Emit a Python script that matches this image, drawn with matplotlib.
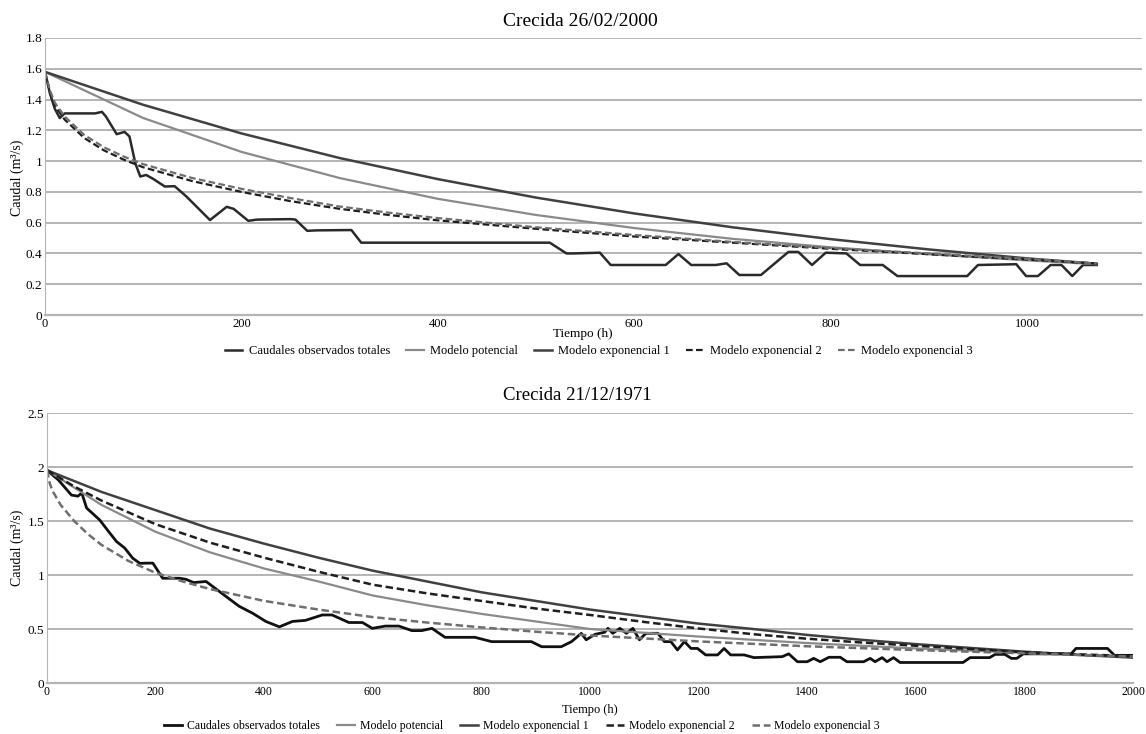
import matplotlib
matplotlib.use("Agg")
import matplotlib.pyplot as plt

plt.rcParams["font.family"] = ["Liberation Serif", "DejaVu Serif"]

# ---- Crecida 26/02/2000 ----
t_obs_a = [0, 5, 10, 15, 20, 51, 58, 62, 73, 81, 86, 92, 97, 103, 110, 122, 132, 144,
           168, 185, 192, 207, 216, 250, 255, 267, 277, 312, 322, 330, 514, 531, 538,
           565, 576, 632, 645, 658, 683, 694, 707, 729, 757, 767, 781, 795, 816, 830, 853,
           868, 939, 950, 989, 999, 1011, 1024, 1035, 1046, 1057, 1071]
q_obs_a = [1.58, 1.44, 1.34, 1.28, 1.31, 1.31, 1.32, 1.29, 1.175, 1.19, 1.16, 0.985, 0.90,
           0.91, 0.885, 0.835, 0.837, 0.77, 0.617, 0.703, 0.69, 0.612, 0.62, 0.623, 0.62,
           0.547, 0.55, 0.552, 0.47, 0.47, 0.47, 0.40, 0.40, 0.405, 0.325, 0.325, 0.396,
           0.325, 0.325, 0.336, 0.26, 0.26, 0.41, 0.41, 0.325, 0.405, 0.40, 0.325, 0.325,
           0.253, 0.253, 0.325, 0.33, 0.253, 0.253, 0.325, 0.325, 0.253, 0.325, 0.325]

t_mod_a = [0, 100, 200, 300, 400, 500, 600, 700, 800, 900, 1000, 1071]
q_pot_a = [1.58, 1.28, 1.06, 0.89, 0.755, 0.65, 0.565, 0.495, 0.44, 0.395, 0.355, 0.33]
q_exp1_a = [1.58, 1.366, 1.18, 1.02, 0.883, 0.763, 0.66, 0.57, 0.493, 0.426, 0.368, 0.333]

t_exp_a = [0, 5, 10, 20, 40, 60, 80, 100, 150, 200, 250, 300, 350, 400, 500, 600, 700,
           800, 900, 1000, 1071]
q_exp2_a = [1.58, 1.45, 1.36, 1.27, 1.15, 1.07, 1.01, 0.96, 0.87, 0.80, 0.74, 0.69, 0.65,
            0.615, 0.56, 0.51, 0.47, 0.43, 0.395, 0.36, 0.335]
q_exp3_a = [1.58, 1.46, 1.38, 1.29, 1.17, 1.09, 1.03, 0.98, 0.89, 0.82, 0.76, 0.705, 0.665,
            0.63, 0.57, 0.52, 0.475, 0.435, 0.40, 0.365, 0.335]

# ---- Crecida 21/12/1971 ----
t_obs_b = [0, 21, 45, 57, 64, 73, 97, 116, 128, 143, 158, 171, 185, 195, 213, 244, 256,
           270, 293, 330, 354, 379, 403, 428, 452, 476, 507, 525, 556, 581, 599, 623, 648,
           672, 690, 709, 733, 788, 819, 892, 911, 947, 966, 984, 993, 1009, 1027, 1033,
           1042, 1055, 1067, 1079, 1091, 1103, 1125, 1137, 1149, 1161, 1174, 1186, 1198,
           1213, 1235, 1247, 1259, 1284, 1302, 1354, 1366, 1382, 1400, 1412, 1424, 1440,
           1461, 1473, 1504, 1516, 1525, 1538, 1547, 1559, 1571, 1687, 1700, 1736, 1746,
           1764, 1776, 1786, 1798, 1886, 1895, 1953, 1966, 2000]
q_obs_b = [1.97, 1.88, 1.74, 1.73, 1.76, 1.62, 1.51, 1.386, 1.31, 1.25, 1.155, 1.108, 1.11,
           1.11, 0.97, 0.97, 0.96, 0.93, 0.94, 0.80, 0.71, 0.645, 0.57, 0.52, 0.57, 0.58,
           0.63, 0.63, 0.56, 0.56, 0.506, 0.527, 0.527, 0.485, 0.485, 0.506, 0.423, 0.423,
           0.383, 0.383, 0.336, 0.336, 0.383, 0.46, 0.40, 0.45, 0.47, 0.506, 0.46, 0.506,
           0.46, 0.506, 0.40, 0.46, 0.46, 0.383, 0.383, 0.306, 0.383, 0.32, 0.32, 0.26,
           0.26, 0.32, 0.26, 0.26, 0.235, 0.244, 0.27, 0.197, 0.197, 0.228, 0.197, 0.238,
           0.238, 0.197, 0.197, 0.228, 0.197, 0.235, 0.197, 0.235, 0.19, 0.19, 0.235,
           0.235, 0.265, 0.265, 0.228, 0.228, 0.27, 0.27, 0.32, 0.32, 0.256, 0.256]

t_mod_b = [0, 50, 100, 200, 300, 400, 500, 600, 700, 800, 900, 1000, 1100, 1200, 1300,
           1400, 1500, 1600, 1700, 1800, 1900, 2000]
q_exp1_b = [1.97, 1.87, 1.77, 1.60, 1.43, 1.29, 1.16, 1.04, 0.94, 0.84, 0.76, 0.68, 0.615,
            0.55, 0.50, 0.445, 0.40, 0.36, 0.325, 0.29, 0.26, 0.235]
q_exp2_b = [1.97, 1.82, 1.69, 1.47, 1.30, 1.16, 1.03, 0.91, 0.83, 0.76, 0.69, 0.63, 0.565,
            0.505, 0.452, 0.41, 0.375, 0.345, 0.315, 0.285, 0.265, 0.25]
q_pot_b = [1.97, 1.81, 1.65, 1.40, 1.21, 1.06, 0.94, 0.81, 0.72, 0.64, 0.57, 0.50, 0.465,
           0.43, 0.40, 0.37, 0.345, 0.32, 0.30, 0.28, 0.26, 0.245]

t_exp3_b = [0, 5, 10, 25, 50, 75, 100, 150, 200, 250, 300, 400, 500, 600, 700, 800, 900,
            1000, 1200, 1400, 1600, 1800, 2000]
q_exp3_b = [1.97, 1.85, 1.78, 1.65, 1.50, 1.38, 1.28, 1.13, 1.02, 0.94, 0.87, 0.76, 0.68,
            0.61, 0.56, 0.515, 0.475, 0.44, 0.385, 0.34, 0.305, 0.275, 0.245]

legend_labels = ["Caudales observados totales", "Modelo potencial", "Modelo exponencial 1",
                 "Modelo exponencial 2", "Modelo exponencial 3"]

W, H = 1146, 734
fig = plt.figure(figsize=(W / 100, H / 100), dpi=100)


def box(x0, y0, x1, y1):
    return [x0 / W, 1 - y1 / H, (x1 - x0) / W, (y1 - y0) / H]


grid_c = "#b4b4b4"


def style(ax, xmax, ymax, ystep, xstep, xfs):
    ax.set_xlim(0, xmax)
    ax.set_ylim(0, ymax)
    n = int(round(ymax / ystep))
    yt = [i * ystep for i in range(n + 1)]
    ax.set_yticks(yt)
    ax.set_yticklabels([("%.1f" % v).rstrip("0").rstrip(".") for v in yt], fontsize=9.5)
    xt = [v for v in range(0, int(xmax) + 1, xstep) if v <= xmax]
    ax.set_xticks(xt)
    ax.set_xticklabels([str(v) for v in xt], fontsize=xfs)
    ax.yaxis.grid(True, color=grid_c, linewidth=1.4)
    ax.set_axisbelow(True)
    for s in ["top", "right"]:
        ax.spines[s].set_visible(False)
    ax.spines["left"].set_color(grid_c)
    ax.spines["bottom"].set_color(grid_c)
    ax.spines["bottom"].set_linewidth(1.6)
    ax.tick_params(length=0, pad=2)


dash = (0, (3.0, 1.5))

# top chart
ax1 = fig.add_axes(box(45, 38, 1142, 315))
l_obs, = ax1.plot(t_obs_a, q_obs_a, color="#2a2a2a", lw=1.8)
l_pot, = ax1.plot(t_mod_a, q_pot_a, color="#8a8a8a", lw=1.6)
l_e1, = ax1.plot(t_mod_a, q_exp1_a, color="#404040", lw=1.8)
l_e2, = ax1.plot(t_exp_a, q_exp2_a, color="#1e1e1e", lw=1.6, ls=dash)
l_e3, = ax1.plot(t_exp_a, q_exp3_a, color="#6e6e6e", lw=1.6, ls=dash)
style(ax1, 1117, 1.8, 0.2, 200, 9)
fig.text(580 / W, 1 - 22 / H, "Crecida 26/02/2000", ha="center", va="center", fontsize=14)
fig.text(583 / W, 1 - 334 / H, "Tiempo (h)", ha="center", va="center", fontsize=9.5)
fig.text(17 / W, 1 - 178 / H, "Caudal (m³/s)", ha="center", va="center", rotation=90, fontsize=10)
fig.legend([l_obs, l_pot, l_e1, l_e2, l_e3], legend_labels, loc="center",
           bbox_to_anchor=(599 / W, 1 - 351 / H), ncol=5, frameon=False, fontsize=9,
           handlelength=1.4, columnspacing=1.3, handletextpad=0.5)

# bottom chart
ax2 = fig.add_axes(box(47, 413, 1133, 683))
m_obs, = ax2.plot(t_obs_b, q_obs_b, color="#111111", lw=2.0)
m_pot, = ax2.plot(t_mod_b, q_pot_b, color="#8a8a8a", lw=1.6)
m_e1, = ax2.plot(t_mod_b, q_exp1_b, color="#404040", lw=1.8)
m_e2, = ax2.plot(t_mod_b, q_exp2_b, color="#1e1e1e", lw=1.8, ls=dash)
m_e3, = ax2.plot(t_exp3_b, q_exp3_b, color="#6e6e6e", lw=1.8, ls=dash)
style(ax2, 2000, 2.5, 0.5, 200, 8.5)
fig.text(577 / W, 1 - 396 / H, "Crecida 21/12/1971", ha="center", va="center", fontsize=13.5)
fig.text(590 / W, 1 - 710 / H, "Tiempo (h)", ha="center", va="center", fontsize=9)
fig.text(17 / W, 1 - 548 / H, "Caudal (m³/s)", ha="center", va="center", rotation=90, fontsize=10)
fig.legend([m_obs, m_pot, m_e1, m_e2, m_e3], legend_labels, loc="center",
           bbox_to_anchor=(522 / W, 1 - 726 / H), ncol=5, frameon=False, fontsize=8.5,
           handlelength=1.5, columnspacing=1.5, handletextpad=0.4)

fig.savefig("out.png", dpi=100)
